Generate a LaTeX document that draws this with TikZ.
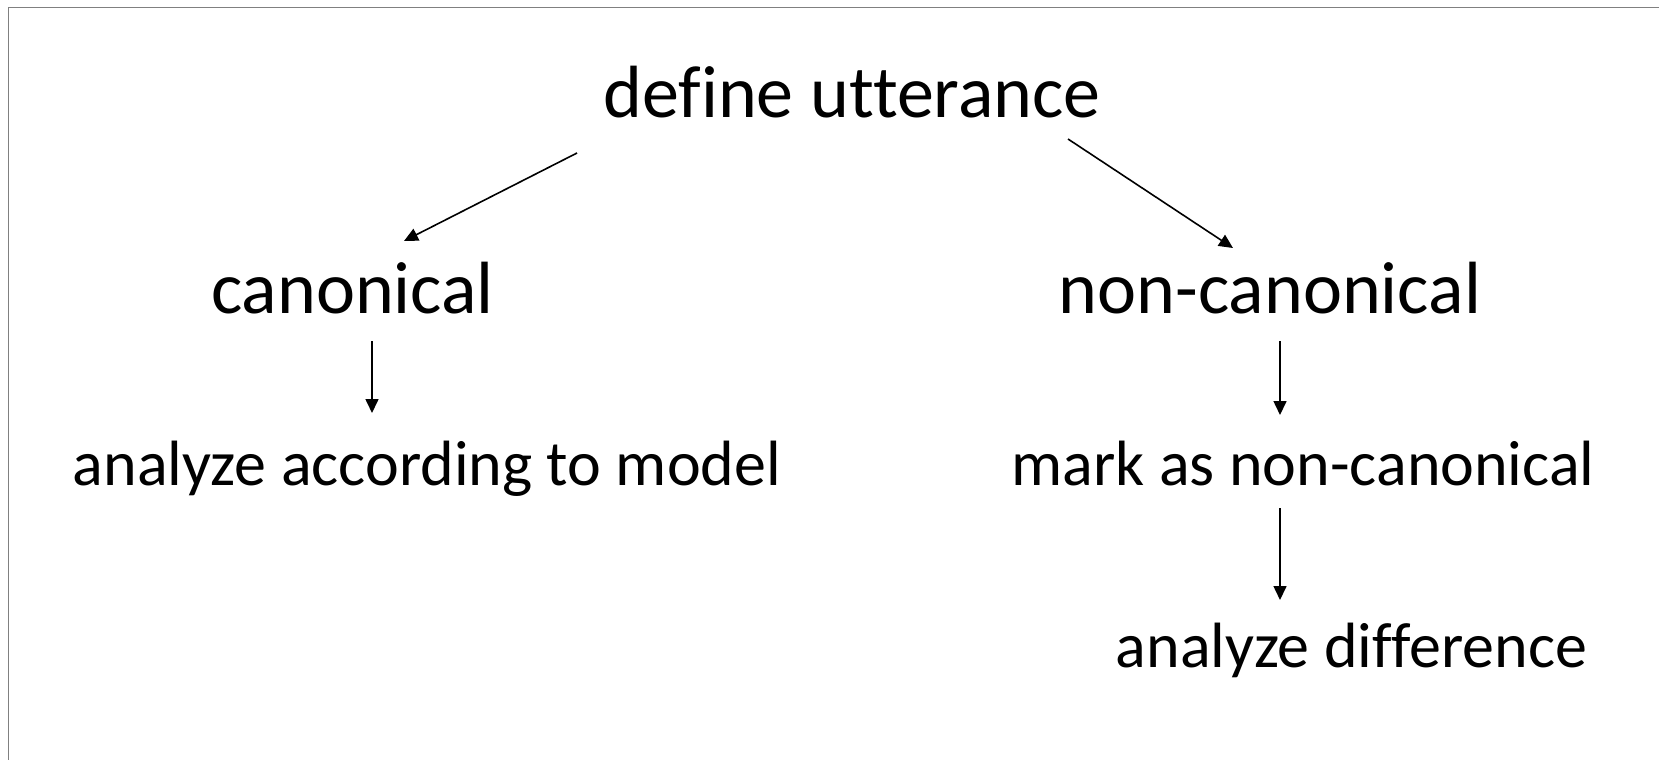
\documentclass[tikz,border=0pt]{standalone}
\usepackage{fontspec}
\setmainfont[Ligatures={NoCommon}]{Carlito}
\usetikzlibrary{arrows.meta}
\tikzset{
  big/.style={inner sep=0pt, anchor=base, font=\fontsize{74}{88}\selectfont},
  small/.style={inner sep=0pt, anchor=base, font=\fontsize{64}{77}\selectfont},
  conn/.style={line width=1.6pt, -{Triangle[length=14pt,width=13pt]}}
}
\begin{document}
\begin{tikzpicture}[x=1pt,y=1pt]
\useasboundingbox (0,0) rectangle (1659,-760);
\fill[white] (0,0) rectangle (1659,-760);
\draw[line width=1.6pt, color=black!50] (1659,-7.5) -- (8.5,-7.5) -- (8.5,-760);

\node[big] (def) at (852,-117) {define utterance};
\node[big] (can) at (352.5,-313) {canonical};
\node[big] (non) at (1270,-313) {non-canonical};
\node[small] (model) at (427,-485) {analyze according to model};
\node[small] (mark) at (1303,-485) {mark as non-canonical};
\node[small] (diff) at (1351.5,-667) {analyze difference};

\draw[conn] ([shift={(-275,-36)}]def.base) -- ([shift={(51.5,72)}]can.base);
\draw[conn] ([shift={(216,-22)}]def.base) -- ([shift={(-37,65)}]non.base);
\draw[conn] ([shift={(19.5,-28)}]can.base) -- ([shift={(-55,72)}]model.base);
\draw[conn] ([shift={(10,-28)}]non.base) -- ([shift={(-23,70)}]mark.base);
\draw[conn] ([shift={(-23,-23)}]mark.base) -- ([shift={(-71.5,67)}]diff.base);
\end{tikzpicture}
\end{document}
